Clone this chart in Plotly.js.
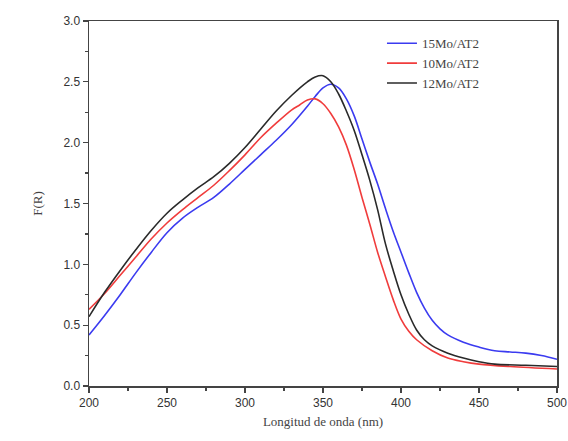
<!DOCTYPE html>
<html>
<head>
<meta charset="utf-8">
<script src="https://cdn.plot.ly/plotly-3.0.1.min.js"></script>
<style>html,body{margin:0;padding:0;background:#fff;}#chart{width:568px;height:441px;}</style>
</head>
<body>
<div id="chart"></div>
<script>
// Wavelength (nm)
var wl15 = [200,210,220,230,240,250,260,270,280,290,300,310,320,330,340,345,350,355,360,365,370,375,380,385,390,395,400,405,410,415,420,425,430,440,450,460,470,480,490,500];
var fr15 = [0.42,0.58,0.75,0.93,1.10,1.26,1.38,1.47,1.55,1.66,1.78,1.90,2.02,2.15,2.30,2.38,2.45,2.48,2.45,2.36,2.22,2.03,1.84,1.66,1.46,1.27,1.10,0.93,0.77,0.64,0.54,0.47,0.42,0.36,0.32,0.29,0.28,0.27,0.25,0.22];

var wl10 = [200,210,220,230,240,250,260,270,280,290,300,310,320,330,335,340,345,350,355,360,365,370,375,380,385,390,395,400,405,410,420,430,440,450,470,500];
var fr10 = [0.63,0.76,0.91,1.06,1.21,1.34,1.45,1.55,1.65,1.77,1.90,2.04,2.16,2.27,2.31,2.35,2.36,2.32,2.24,2.13,1.98,1.78,1.55,1.33,1.10,0.90,0.71,0.55,0.45,0.38,0.29,0.23,0.20,0.18,0.16,0.14];

var wl12 = [200,210,220,230,240,250,260,270,280,290,300,310,320,330,340,345,350,355,360,365,370,375,380,385,390,395,400,405,410,415,420,430,440,450,460,480,500];
var fr12 = [0.57,0.77,0.95,1.12,1.28,1.42,1.53,1.63,1.72,1.83,1.96,2.11,2.26,2.39,2.50,2.54,2.55,2.50,2.40,2.26,2.10,1.90,1.69,1.45,1.17,0.95,0.75,0.59,0.46,0.38,0.33,0.27,0.23,0.20,0.18,0.17,0.16];

var names = ["15Mo/AT2","10Mo/AT2","12Mo/AT2"];
var colors = ["#3b3bf0","#f03c3c","#2a2a2a"];

var traces = [
  {x: wl15, y: fr15, name: names[0]},
  {x: wl10, y: fr10, name: names[1]},
  {x: wl12, y: fr12, name: names[2]}
].map(function(t, i){
  t.type = "scatter"; t.mode = "lines";
  t.line = {color: colors[i], width: 1.6, shape: "spline", smoothing: 1};
  return t;
});

var axisCommon = {
  showline: true, linecolor: "#444", linewidth: 1.5, mirror: true,
  ticks: "outside", ticklen: 5, tickwidth: 1.2, tickcolor: "#444",
  showgrid: false, zeroline: false,
  tickfont: {family: "Liberation Sans, Arial, sans-serif", size: 12, color: "#333"}
};

var layout = {
  width: 568, height: 441,
  margin: {l: 89, r: 11, t: 21, b: 55},
  paper_bgcolor: "#fff", plot_bgcolor: "#fff",
  showlegend: true,
  legend: {x: 0.626, y: 0.98, xanchor: "left", yanchor: "top",
           bgcolor: "rgba(0,0,0,0)", borderwidth: 0,
           font: {family: "Liberation Serif, Times New Roman, serif", size: 13, color: "#444"},
           tracegroupgap: 0},
  xaxis: Object.assign({}, axisCommon, {
    range: [200, 500], dtick: 50, tick0: 200,
    minor: {ticks: "outside", ticklen: 3, dtick: 25, tickcolor: "#444"},
    title: {text: "Longitud de onda (nm)", standoff: 8,
            font: {family: "Liberation Serif, Times New Roman, serif", size: 13, color: "#444"}}
  }),
  yaxis: Object.assign({}, axisCommon, {
    range: [0, 3.0], dtick: 0.5, tick0: 0, tickformat: ".1f",
    minor: {ticks: "outside", ticklen: 3, dtick: 0.25, tickcolor: "#444"},
    title: {text: "F(R)", standoff: 18,
            font: {family: "Liberation Serif, Times New Roman, serif", size: 13, color: "#444"}}
  })
};

Plotly.newPlot("chart", traces, layout, {displayModeBar: false, staticPlot: true});
</script>
</body>
</html>
